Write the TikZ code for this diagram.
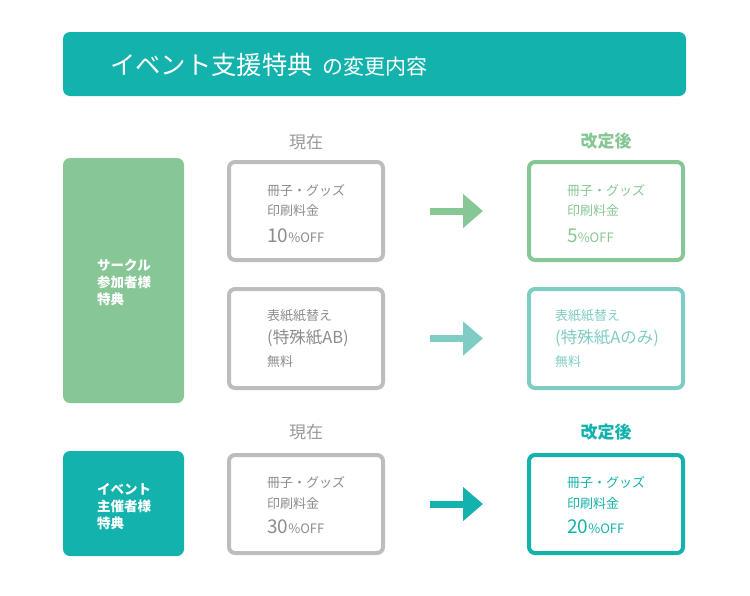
\documentclass[tikz,border=0pt]{standalone}
\usepackage{fontspec}
\setmainfont{Noto Sans CJK JP}
\usetikzlibrary{arrows.meta}
\definecolor{teal1}{HTML}{13B2AC}
\definecolor{green1}{HTML}{86C795}
\definecolor{lteal}{HTML}{7FCCC5}
\definecolor{grayline}{HTML}{BDBDBD}
\definecolor{graytext}{HTML}{8C8C8C}
\definecolor{grayhead}{HTML}{999999}
\tikzset{
  fs/.style={font=\fontsize{#1}{#1}\selectfont},
  txt/.style={anchor=base west, inner sep=0pt, fs=13},
  ctxt/.style={anchor=base, inner sep=0pt},
  box/.style={draw=#1, line width=4pt, rounded corners=6pt, minimum width=154pt, inner sep=0pt},
  side/.style={fill=#1, rounded corners=7pt, inner sep=0pt, minimum width=121pt},
  sidetxt/.style={txt, text=white, font=\fontsize{13.5}{13.5}\selectfont\bfseries},
  bigarrow/.style={draw=#1, line width=7pt, -{Triangle[length=20pt,width=33pt]}},
}
\begin{document}
\begin{tikzpicture}[x=1pt,y=-1pt]
\useasboundingbox (0,0) rectangle (750,595);
% title
\node[fill=teal1, rounded corners=7pt, minimum width=623pt, minimum height=64pt, inner sep=0pt] (title) at (374.5,64) {};
\node[txt, fs=25.3, text=white] (t1) at (110,74.5) {イベント支援特典};
\node[txt, fs=21, text=white] (t2) at (t1.base east) [xshift=9pt] {の変更内容};
% side boxes
\node[side=green1, minimum height=245pt] (s1) at (123.5,280.5) {};
\node[sidetxt] (s1a) at (97,270) {サークル};
\node[sidetxt] (s1b) at (97,287) {参加者様};
\node[sidetxt] (s1c) at (97,304) {特典};
\node[side=teal1, minimum height=105pt] (s2) at (123.5,503.5) {};
\node[sidetxt] (s2a) at (97,494) {イベント};
\node[sidetxt] (s2b) at (97,511) {主催者様};
\node[sidetxt] (s2c) at (97,528) {特典};
% headings
\node[ctxt, fs=17, text=grayhead] (h1) at (306,148.5) {現在};
\node[ctxt, text=green1, font=\fontsize{17}{17}\selectfont\bfseries] (h2) at (606,147) {改定後};
\node[ctxt, fs=17, text=grayhead] (h3) at (306,438.5) {現在};
\node[ctxt, text=teal1, font=\fontsize{17}{17}\selectfont\bfseries] (h4) at (606,438.5) {改定後};
% current boxes
\node[box=grayline, minimum height=98pt] (c1) at (306,211) {};
\node[box=grayline, minimum height=99pt] (c2) at (306,338.5) {};
\node[box=grayline, minimum height=98pt] (c3) at (306,504) {};
% new boxes
\node[box=green1, minimum height=98pt] (n1) at (606,211) {};
\node[box=lteal, minimum height=99pt] (n2) at (606,338.5) {};
\node[box=teal1, minimum height=98pt] (n3) at (606,504) {};
% texts current
\node[txt, text=graytext] (c1a) at (267,195.5) {冊子・グッズ};
\node[txt, text=graytext] (c1b) at (267,215.5) {印刷料金};
\node[txt, text=graytext] (c1c) at (267,242) {{\fontsize{19}{19}\selectfont 10}\%OFF};
\node[txt, text=graytext] (c2a) at (267,320.5) {表紙紙替え};
\node[txt, text=graytext, fs=16.5] (c2b) at (267,343) {(特殊紙AB)};
\node[txt, text=graytext] (c2c) at (267,366) {無料};
\node[txt, text=graytext] (c3a) at (267,487.5) {冊子・グッズ};
\node[txt, text=graytext] (c3b) at (267,508.5) {印刷料金};
\node[txt, text=graytext] (c3c) at (267,533) {{\fontsize{19}{19}\selectfont 30}\%OFF};
% texts new
\node[txt, text=green1] (n1a) at (567,195.5) {冊子・グッズ};
\node[txt, text=green1] (n1b) at (567,215.5) {印刷料金};
\node[txt, text=green1] (n1c) at (567,242) {{\fontsize{19}{19}\selectfont 5}\%OFF};
\node[txt, text=lteal] (n2a) at (555,320.5) {表紙紙替え};
\node[txt, text=lteal, fs=16.5] (n2b) at (555,343) {(特殊紙Aのみ)};
\node[txt, text=lteal] (n2c) at (555,366.5) {無料};
\node[txt, text=teal1] (n3a) at (567,487.5) {冊子・グッズ};
\node[txt, text=teal1] (n3b) at (567,508.5) {印刷料金};
\node[txt, text=teal1] (n3c) at (567,533) {{\fontsize{19}{19}\selectfont 20}\%OFF};
% arrows
\draw[bigarrow=green1] ([xshift=45pt]c1.east) -- ([xshift=-44pt]n1.west);
\draw[bigarrow=lteal] ([xshift=45pt]c2.east) -- ([xshift=-44pt]n2.west);
\draw[bigarrow=teal1] ([xshift=45pt]c3.east) -- ([xshift=-44pt]n3.west);
\end{tikzpicture}
\end{document}
